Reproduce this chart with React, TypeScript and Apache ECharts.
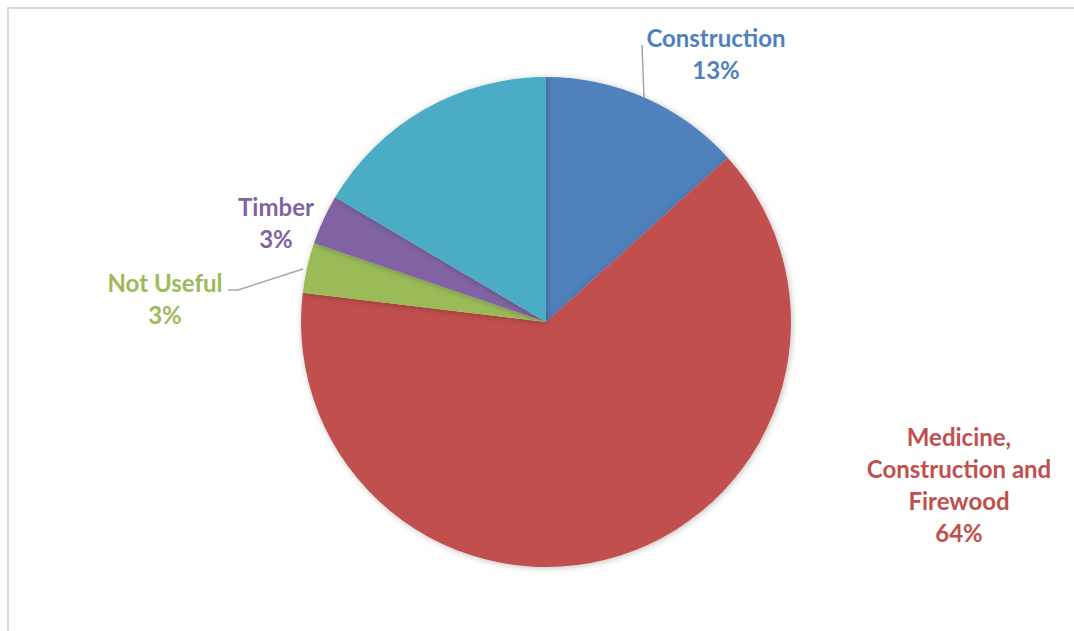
import React, { useEffect, useRef } from "react";
import * as echarts from "echarts";

const categories = [
  "Construction",
  "Medicine, Construction and Firewood",
  "Not Useful",
  "Timber",
  "Other",
];
const values = [13.3, 63.6, 3.3, 3.3, 16.5];
const colors = ["#4F81BD", "#C0504D", "#9BBB59", "#8064A2", "#4BACC6"];
const showLabel = [true, true, true, true, false];

export default function App() {
  const ref = useRef<HTMLDivElement>(null);
  useEffect(() => {
    if (!ref.current) return;
    const chart = echarts.init(ref.current, null, { renderer: "svg" });
    const labelPos: Record<number, any> = {
      0: { x: 716, y: 53, pts: [[644, 97], [642, 45], [642, 45]] },
      1: { x: 959, y: 484 },
      2: { x: 165, y: 298, pts: [[303, 269], [238, 290], [228, 290]] },
      3: { x: 276, y: 222 },
    };
    chart.setOption({
      animation: false,
      backgroundColor: "#ffffff",
      graphic: [
        {
          type: "rect",
          shape: { x: 8, y: 8, width: 1100, height: 700 },
          style: { fill: "none", stroke: "#d9d9d9", lineWidth: 2 },
          silent: true,
        },
      ],
      series: [
        {
          type: "pie",
          center: [546, 322],
          radius: 245,
          startAngle: 90,
          clockwise: true,
          avoidLabelOverlap: false,
          itemStyle: {
            borderWidth: 0,
            shadowBlur: 6,
            shadowColor: "rgba(0,0,0,0.25)",
            shadowOffsetX: 1,
            shadowOffsetY: 1,
          },
          label: {
            show: true,
            position: "outside",
            fontFamily: "Lato",
            fontWeight: "bold",
            fontSize: 24,
            lineHeight: 32,
            align: "center",
            formatter: (p: any) =>
              p.name.replace("Medicine, ", "Medicine,\n").replace(" and ", " and\n") +
              "\n" +
              Math.round(p.percent) +
              "%",
          },
          labelLine: {
            show: true,
            lineStyle: { color: "#a6a6a6", width: 1.5 },
          },
          labelLayout: (params: any) => {
            const lp = labelPos[params.dataIndex];
            if (!lp) return {};
            const out: any = {
              x: lp.x,
              y: lp.y,
              align: "center",
              verticalAlign: "middle",
            };
            if (lp.pts) out.labelLinePoints = lp.pts;
            return out;
          },
          data: categories.map((name, i) => ({
            name,
            value: values[i],
            itemStyle: { color: colors[i] },
            label: { show: showLabel[i], color: colors[i] },
            labelLine: { show: i === 0 || i === 2 },
          })),
        },
      ],
    });
    return () => chart.dispose();
  }, []);
  return (
    <div
      ref={ref}
      style={{ position: "fixed", left: 0, top: 0, width: 1074, height: 631 }}
    />
  );
}
